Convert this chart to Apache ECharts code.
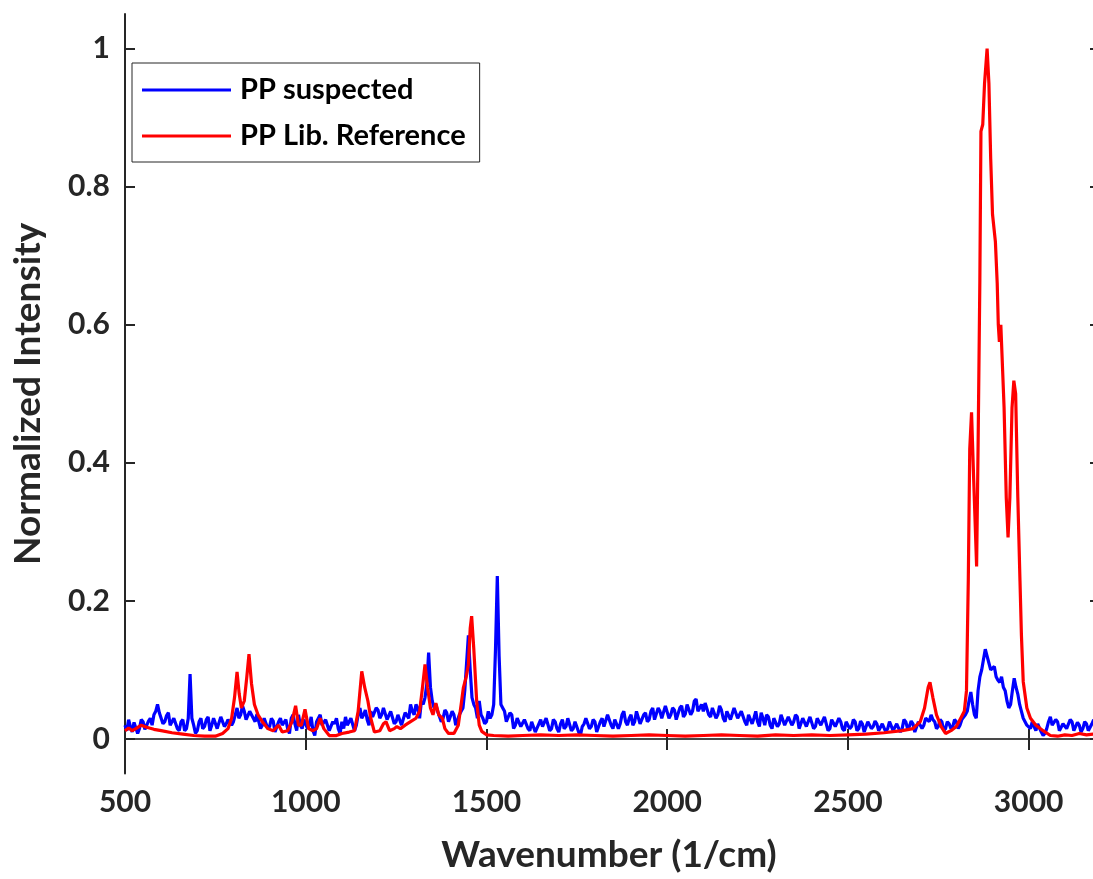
<!DOCTYPE html>
<html><head><meta charset="utf-8">
<script src="https://cdn.jsdelivr.net/npm/echarts@6/dist/echarts.min.js"></script>
<style>html,body{margin:0;padding:0;background:#fff}#c{width:1093px;height:879px}</style>
</head><body><div id="c"></div>
<script>
const xTicks = [500, 1000, 1500, 2000, 2500, 3000];
const yTicks = [0, 0.2, 0.4, 0.6, 0.8, 1];
const seriesNames = ['PP suspected', 'PP Lib. Reference'];

// [wavenumber, normalized intensity]
const ppSuspected = [
[500,.02],[505,.012],[510,.028],[515,.018],[520,.01],[525,.024],[530,.022],[535,.008],[540,.015],[545,.028],[550,.025],[555,.014],[560,.012],[565,.026],[570,.03],[575,.02],[580,.035],[585,.04],[590,.05],[595,.038],
[600,.038],[605,.022],[610,.025],[615,.034],[620,.038],[625,.02],[630,.018],[635,.03],[640,.03],[645,.015],[650,.012],[655,.025],[660,.028],[665,.012],[670,.015],[675,.03],[680,.094],[685,.03],[690,.02],[695,.008],
[700,.012],[705,.025],[710,.03],[715,.015],[720,.018],[725,.028],[730,.032],[735,.012],[740,.02],[745,.03],[750,.028],[755,.015],[760,.015],[765,.032],[770,.03],[775,.018],[780,.022],[785,.028],[790,.03],[795,.02],
[800,.025],[805,.035],[810,.045],[815,.03],[820,.035],[825,.048],[830,.04],[835,.028],[840,.03],[845,.04],[850,.042],[855,.03],[860,.025],[865,.036],[870,.035],[875,.015],[880,.02],[885,.03],[890,.03],[895,.015],
[900,.018],[905,.03],[910,.026],[915,.01],[920,.012],[925,.025],[930,.03],[935,.02],[940,.02],[945,.028],[950,.015],[955,.008],[960,.03],[965,.035],[970,.022],[975,.012],[980,.035],[985,.02],[990,.015],[995,.028],
[1000,.03],[1005,.015],[1010,.02],[1015,.032],[1020,.012],[1025,.005],[1030,.025],[1035,.03],[1040,.035],[1045,.02],[1050,.018],[1055,.028],[1060,.03],[1065,.012],[1070,.01],[1075,.025],[1080,.022],[1085,.03],[1090,.015],[1095,.008],
[1100,.025],[1105,.015],[1110,.032],[1115,.02],[1120,.018],[1125,.03],[1130,.028],[1135,.012],[1140,.02],[1145,.035],[1150,.045],[1155,.03],[1160,.035],[1165,.042],[1170,.028],[1175,.02],[1180,.04],[1185,.032],[1190,.03],[1195,.045],
[1200,.042],[1205,.03],[1210,.035],[1215,.045],[1220,.045],[1225,.028],[1230,.03],[1235,.04],[1240,.038],[1245,.022],[1250,.025],[1255,.035],[1260,.035],[1265,.02],[1270,.02],[1275,.038],[1280,.04],[1285,.03],[1290,.05],[1295,.04],
[1300,.035],[1305,.05],[1310,.045],[1315,.03],[1320,.055],[1325,.05],[1330,.06],[1335,.08],[1340,.125],[1345,.075],[1350,.055],[1355,.045],[1360,.05],[1365,.04],[1370,.04],[1375,.025],[1380,.03],[1385,.042],[1390,.038],[1395,.025],
[1400,.025],[1405,.04],[1410,.035],[1415,.02],[1420,.02],[1425,.035],[1430,.04],[1435,.045],[1440,.07],[1445,.11],[1450,.15],[1455,.1],[1460,.06],[1465,.05],[1470,.045],[1475,.03],[1480,.055],[1485,.035],[1490,.03],[1495,.022],
[1500,.025],[1505,.04],[1510,.03],[1515,.035],[1520,.05],[1525,.13],[1530,.236],[1535,.12],[1540,.05],[1545,.045],[1550,.04],[1555,.025],[1560,.025],[1565,.038],[1570,.035],[1575,.015],[1580,.02],[1585,.03],[1590,.03],[1595,.018],
[1600,.018],[1605,.028],[1610,.03],[1615,.015],[1620,.012],[1625,.025],[1630,.025],[1635,.01],[1640,.008],[1645,.022],[1650,.028],[1655,.018],[1660,.02],[1665,.03],[1670,.032],[1675,.012],[1680,.015],[1685,.028],[1690,.025],[1695,.015],
[1700,.01],[1705,.022],[1710,.028],[1715,.015],[1720,.018],[1725,.03],[1730,.03],[1735,.012],[1740,.015],[1745,.025],[1750,.025],[1755,.01],[1760,.005],[1765,.018],[1770,.022],[1775,.03],[1780,.03],[1785,.015],[1790,.018],[1795,.028],
[1800,.025],[1805,.01],[1810,.012],[1815,.025],[1820,.03],[1825,.018],[1830,.02],[1835,.035],[1840,.035],[1845,.02],[1850,.015],[1855,.028],[1860,.03],[1865,.015],[1870,.022],[1875,.035],[1880,.04],[1885,.025],[1890,.02],[1895,.03],
[1900,.035],[1905,.02],[1910,.025],[1915,.04],[1920,.04],[1925,.022],[1930,.02],[1935,.035],[1940,.038],[1945,.025],[1950,.028],[1955,.04],[1960,.045],[1965,.028],[1970,.03],[1975,.045],[1980,.04],[1985,.03],[1990,.032],[1995,.048],
[2000,.05],[2005,.03],[2010,.035],[2015,.045],[2020,.042],[2025,.028],[2030,.03],[2035,.045],[2040,.048],[2045,.032],[2050,.036],[2055,.05],[2060,.05],[2065,.035],[2070,.04],[2075,.055],[2080,.058],[2085,.04],[2090,.045],[2095,.05],
[2100,.04],[2105,.052],[2110,.05],[2115,.035],[2120,.032],[2125,.045],[2130,.045],[2135,.03],[2140,.035],[2145,.048],[2150,.042],[2155,.03],[2160,.025],[2165,.04],[2170,.04],[2175,.028],[2180,.03],[2185,.045],[2190,.045],[2195,.03],
[2200,.028],[2205,.04],[2210,.038],[2215,.025],[2220,.02],[2225,.035],[2230,.035],[2235,.022],[2240,.03],[2245,.04],[2250,.025],[2255,.018],[2260,.038],[2265,.03],[2270,.02],[2275,.035],[2280,.032],[2285,.02],[2290,.015],[2295,.03],
[2300,.03],[2305,.018],[2310,.022],[2315,.035],[2320,.035],[2325,.02],[2330,.018],[2335,.032],[2340,.03],[2345,.02],[2350,.025],[2355,.035],[2360,.032],[2365,.015],[2370,.015],[2375,.03],[2380,.03],[2385,.018],[2390,.02],[2395,.032],
[2400,.033],[2405,.015],[2410,.018],[2415,.03],[2420,.028],[2425,.02],[2430,.022],[2435,.032],[2440,.03],[2445,.012],[2450,.015],[2455,.028],[2460,.028],[2465,.018],[2470,.02],[2475,.03],[2480,.025],[2485,.015],[2490,.012],[2495,.025],
[2500,.026],[2505,.015],[2510,.018],[2515,.028],[2520,.025],[2525,.012],[2530,.015],[2535,.026],[2540,.022],[2545,.01],[2550,.012],[2555,.025],[2560,.025],[2565,.015],[2570,.018],[2575,.026],[2580,.022],[2585,.012],[2590,.01],[2595,.022],
[2600,.02],[2605,.01],[2610,.015],[2615,.025],[2620,.025],[2625,.012],[2630,.012],[2635,.022],[2640,.022],[2645,.01],[2650,.015],[2655,.028],[2660,.025],[2665,.015],[2670,.018],[2675,.026],[2680,.022],[2685,.01],[2690,.012],[2695,.025],
[2700,.025],[2705,.015],[2710,.02],[2715,.03],[2720,.03],[2725,.025],[2730,.035],[2735,.028],[2740,.025],[2745,.015],[2750,.018],[2755,.028],[2760,.025],[2765,.012],[2770,.015],[2775,.025],[2780,.022],[2785,.015],[2790,.018],[2795,.028],
[2800,.025],[2805,.015],[2810,.02],[2815,.028],[2820,.028],[2825,.035],[2830,.04],[2835,.055],[2840,.068],[2845,.05],[2850,.035],[2855,.03],[2860,.07],[2865,.09],[2870,.1],[2875,.115],[2880,.13],[2885,.12],[2890,.11],[2895,.1],
[2900,.1],[2905,.105],[2910,.09],[2915,.085],[2920,.082],[2925,.09],[2930,.075],[2935,.07],[2940,.055],[2945,.045],[2950,.05],[2955,.07],[2960,.088],[2965,.075],[2970,.065],[2975,.05],[2980,.04],[2985,.03],[2990,.025],[2995,.02],
[3000,.02],[3005,.015],[3010,.025],[3015,.018],[3020,.012],[3025,.022],[3030,.02],[3035,.01],[3040,.005],[3045,.008],[3050,.015],[3055,.025],[3060,.032],[3065,.02],[3070,.018],[3075,.028],[3080,.025],[3085,.012],[3090,.012],[3095,.022],
[3100,.022],[3105,.015],[3110,.015],[3115,.028],[3120,.025],[3125,.012],[3130,.012],[3135,.024],[3140,.02],[3145,.01],[3150,.015],[3155,.025],[3160,.022],[3165,.012],[3170,.012],[3175,.022],[3180,.028]
];

const ppLibReference = [
[500,.012],[510,.016],[520,.012],[530,.015],[545,.02],[560,.017],[580,.014],[600,.012],[630,.009],[660,.007],
[690,.005],[720,.004],[750,.004],[770,.008],[785,.015],[795,.03],[803,.06],[810,.097],[816,.065],[822,.045],
[830,.055],[837,.09],[843,.123],[850,.08],[858,.05],[868,.035],[880,.025],[895,.015],[910,.012],[925,.02],
[935,.01],[950,.012],[962,.025],[972,.048],[980,.02],[988,.02],[998,.043],[1008,.015],[1020,.012],[1030,.015],
[1040,.03],[1050,.015],[1065,.005],[1085,.005],[1100,.008],[1120,.01],[1135,.012],[1145,.04],[1155,.098],[1163,.075],
[1172,.055],[1180,.03],[1190,.01],[1205,.012],[1215,.022],[1222,.025],[1232,.012],[1245,.015],[1252,.018],[1262,.015],
[1275,.02],[1290,.025],[1305,.03],[1315,.04],[1322,.07],[1330,.108],[1337,.075],[1345,.045],[1352,.035],[1360,.052],
[1368,.035],[1378,.03],[1385,.015],[1395,.008],[1410,.008],[1422,.02],[1430,.05],[1436,.074],[1444,.09],[1450,.108],
[1455,.16],[1459,.178],[1465,.13],[1473,.054],[1480,.02],[1487,.011],[1500,.006],[1520,.005],[1560,.004],[1600,.005],
[1650,.006],[1700,.005],[1750,.006],[1800,.005],[1850,.004],[1900,.005],[1950,.006],[2000,.005],[2050,.004],[2100,.005],
[2150,.006],[2200,.005],[2250,.004],[2300,.006],[2350,.005],[2400,.006],[2450,.005],[2500,.006],[2550,.007],[2600,.009],
[2650,.012],[2680,.015],[2700,.025],[2712,.045],[2722,.075],[2727,.082],[2735,.06],[2745,.035],[2758,.018],[2770,.008],
[2785,.012],[2800,.018],[2812,.03],[2822,.04],[2828,.07],[2833,.23],[2837,.42],[2842,.473],[2848,.374],[2856,.25],
[2860,.42],[2865,.665],[2868,.88],[2873,.89],[2878,.95],[2885,1.0],[2890,.95],[2895,.84],[2900,.76],[2908,.72],
[2913,.66],[2916,.6],[2919,.575],[2923,.6],[2926,.598],[2932,.48],[2938,.35],[2943,.292],[2948,.35],[2954,.48],
[2959,.519],[2964,.5],[2970,.35],[2976,.229],[2980,.15],[2985,.083],[2995,.045],[3005,.03],[3020,.02],[3040,.012],
[3060,.005],[3080,.004],[3100,.006],[3120,.005],[3140,.008],[3160,.006],[3180,.007]
];

const FONT = 'Lato';
const chart = echarts.init(document.getElementById('c'), null, {renderer: 'canvas'});
const tickLabel = {fontFamily: FONT, fontWeight: 'bold', fontSize: 30, color: '#262626'};
const plain = v => String(v);
chart.setOption({
  animation: false,
  backgroundColor: '#fff',
  grid: {left: 125, right: 0, top: 14, bottom: 105.5, containLabel: false},
  legend: {
    orient: 'vertical', left: 132, top: 63,
    padding: [12, 14, 11, 10], itemGap: 16, itemWidth: 89, itemHeight: 3,
    borderColor: '#262626', borderWidth: 1, backgroundColor: '#fff',
    textStyle: {fontFamily: FONT, fontWeight: 'bold', fontSize: 29, color: '#000', lineHeight: 30, padding: [0, 0, 0, 4]},
    data: seriesNames.map(n => ({name: n, icon: 'rect'}))
  },
  xAxis: [{
    type: 'value', min: 500, max: 3178, position: 'bottom',
    name: 'Wavenumber (1/cm)', nameLocation: 'middle', nameGap: 63,
    nameTextStyle: {fontFamily: FONT, fontWeight: 'bold', fontSize: 37, color: '#262626'},
    axisLine: {lineStyle: {color: '#262626', width: 2}},
    axisTick: {inside: true, length: 10, customValues: xTicks, lineStyle: {color: '#262626', width: 2}},
    axisLabel: Object.assign({margin: 14, customValues: xTicks, formatter: plain}, tickLabel),
    splitLine: {show: false}
  }, {
    type: 'value', min: 500, max: 3178, position: 'top',
    axisLine: {lineStyle: {color: '#555', width: 1.5}},
    axisTick: {inside: true, length: 11, customValues: xTicks, lineStyle: {color: '#262626', width: 2}},
    axisLabel: {show: false}, splitLine: {show: false}
  }],
  yAxis: [{
    type: 'value', min: -0.05, max: 1.05, position: 'left',
    name: 'Normalized Intensity', nameLocation: 'middle', nameGap: 78, nameRotate: 90,
    nameTextStyle: {fontFamily: FONT, fontWeight: 'bold', fontSize: 37, color: '#262626'},
    axisLine: {show: true, lineStyle: {color: '#262626', width: 2}},
    axisTick: {show: true, inside: true, length: 10, customValues: yTicks, lineStyle: {color: '#262626', width: 2}},
    axisLabel: Object.assign({margin: 15, customValues: yTicks, formatter: plain}, tickLabel),
    splitLine: {show: false}
  }, {
    type: 'value', min: -0.05, max: 1.05, position: 'right',
    axisLine: {show: false},
    axisTick: {show: true, inside: true, length: 3, customValues: yTicks, lineStyle: {color: '#262626', width: 2}},
    axisLabel: {show: false}, splitLine: {show: false}
  }],
  series: [{
    name: seriesNames[0], type: 'line', data: ppSuspected, showSymbol: false, symbol: 'none', clip: true,
    lineStyle: {color: '#0000ff', width: 3.2}, itemStyle: {color: '#0000ff'}, emphasis: {disabled: true}
  }, {
    name: seriesNames[1], type: 'line', data: ppLibReference, showSymbol: false, symbol: 'none', clip: true,
    lineStyle: {color: '#ff0000', width: 3.2}, itemStyle: {color: '#ff0000'}, emphasis: {disabled: true}
  }]
});
</script>
</body></html>
